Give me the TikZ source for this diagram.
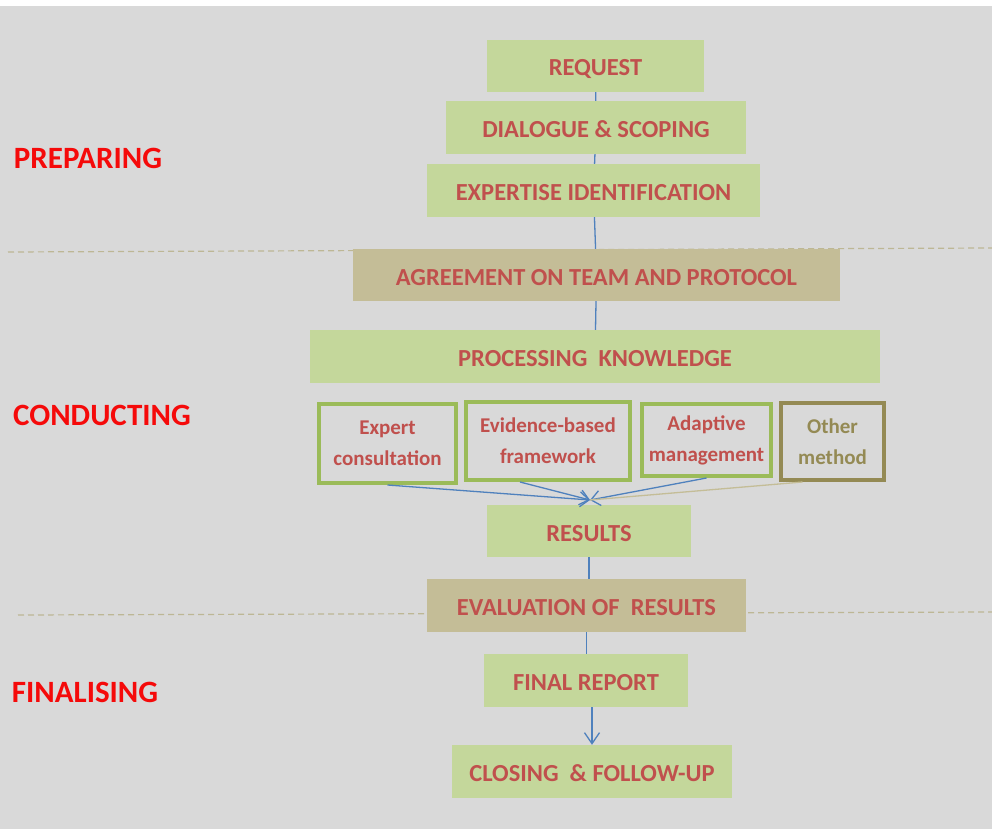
\documentclass[tikz,border=0pt]{standalone}
\usepackage{fontspec}
\setmainfont{Carlito}
\usetikzlibrary{arrows.meta}

\definecolor{bggray}{RGB}{217,217,217}
\definecolor{boxgreen}{RGB}{196,215,155}
\definecolor{boxtan}{RGB}{196,189,151}
\definecolor{rimgreen}{RGB}{155,187,89}
\definecolor{rimolive}{RGB}{148,138,84}
\definecolor{txtred}{RGB}{192,80,77}
\definecolor{phasered}{RGB}{245,10,10}
\definecolor{flowblue}{RGB}{79,129,189}

\begin{document}
\begin{tikzpicture}[x=1pt,y=-1pt,
  stage/.style={fill=boxgreen, inner sep=0pt, text=txtred,
    text height=20pt, text depth=0pt,
    font=\fontsize{24.5}{26}\selectfont\bfseries},
  tanstage/.style={stage, fill=boxtan},
  method/.style={draw=rimgreen, line width=4pt, fill=bggray, inner sep=0pt,
    text=txtred, align=center, font=\fontsize{21}{31}\selectfont\bfseries},
  phase/.style={text=phasered, font=\fontsize{31}{34}\selectfont\bfseries},
  flow/.style={draw=flowblue, line width=1.3pt},
  divider/.style={draw=boxtan!90!gray, line width=1.2pt, dash pattern=on 6pt off 4pt}]
\useasboundingbox (0,0) rectangle (992,829);
\fill[white] (0,0) rectangle (992,6);
\fill[bggray] (0,6) rectangle (992,829);

% phase dividers
\coordinate (d1a) at (8,252);
\coordinate (d1b) at (992,248);
\coordinate (d2a) at (18,615);
\coordinate (d2b) at (992,612);
\path[divider] (d1a) -- (d1b);
\path[divider] (d2a) -- (d2b);

% phases
\node[phase] (preparing) at (88,158) {PREPARING};
\node[phase] (conducting) at (102,415) {CONDUCTING};
\node[phase] (finalising) at (85,692) {FINALISING};

% stages
\node[stage, minimum width=217, minimum height=52] (request) at (595.5,66) {REQUEST};
\node[stage, minimum width=300, minimum height=53] (dialogue) at (596,127.5) {DIALOGUE \& SCOPING};
\node[stage, minimum width=333, minimum height=53] (expertise) at (593.5,190.5) {EXPERTISE IDENTIFICATION};
\node[tanstage, minimum width=487, minimum height=52] (agreement) at (596.5,275) {AGREEMENT ON TEAM AND PROTOCOL};
\node[stage, minimum width=570, minimum height=53] (processing) at (595,356.5) {PROCESSING\ \ KNOWLEDGE};

\node[method, minimum width=137, minimum height=79] (expert) at (387.5,443.5) {Expert\\consultation};
\node[method, minimum width=164, minimum height=78] (evidence) at (548,441) {Evidence-based\\framework};
\node[method, minimum width=129, minimum height=72] (adaptive) at (706.5,440) {Adaptive\\management};
\node[method, draw=rimolive, text=rimolive, minimum width=103, minimum height=77] (other) at (832.5,441.5) {Other\\method};

\node[stage, minimum width=204, minimum height=52] (results) at (589,531) {RESULTS};
\node[tanstage, minimum width=319, minimum height=53] (evaluation) at (586.5,605.5) {EVALUATION OF\ \ RESULTS};
\node[stage, minimum width=204, minimum height=53] (final) at (586,680.5) {FINAL REPORT};
\node[stage, minimum width=280, minimum height=53] (closing) at (592,771.5) {CLOSING\ \ \& FOLLOW-UP};

\coordinate (meet) at (590,500);

\path[flow] (request) -- (dialogue);
\path[flow] (dialogue) -- (expertise);
\path[flow] (expertise) -- (agreement);
\path[flow] (agreement) -- (processing);
\path[flow,-{Straight Barb[length=9pt,width=15pt]}] (expert.south) -- (meet);
\path[flow,-{Straight Barb[length=9pt,width=15pt]}] ([xshift=-28pt]evidence.south) -- (meet);
\path[flow,-{Straight Barb[length=9pt,width=15pt]}] (adaptive.south) -- (meet);
\path[draw=boxtan, line width=1.3pt] ([xshift=-30pt]other.south) -- (meet);
\path[flow] (results.south) -- (results.south |- evaluation.north);
\path[flow] (evaluation.south) -- (evaluation.south |- final.north);
\path[flow,-{Straight Barb[length=11pt,width=15pt]}] ([xshift=6pt]final.south) -- ([xshift=6pt]final.south |- closing.north);
\end{tikzpicture}
\end{document}
